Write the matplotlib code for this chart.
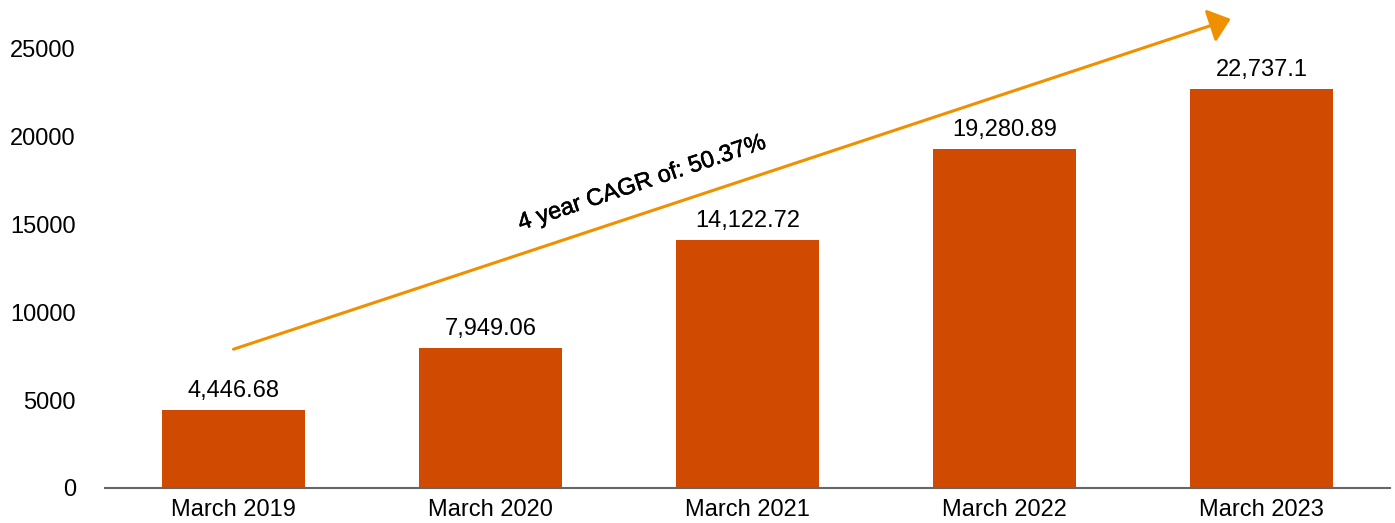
import matplotlib.pyplot as plt
import matplotlib.patheffects as pe

categories = ["March 2019", "March 2020", "March 2021", "March 2022", "March 2023"]
values = [4446.68, 7949.06, 14122.72, 19280.89, 22737.1]
value_labels = ["4,446.68", "7,949.06", "14,122.72", "19,280.89", "22,737.1"]
cagr_text = "4 year CAGR of: 50.37%"

plt.rcParams["font.family"] = ["Liberation Sans", "DejaVu Sans"]

fig = plt.figure(figsize=(13.95, 5.23), dpi=100)
ax = fig.add_axes([105 / 1395, 35 / 523, 1285 / 1395, 488 / 523])

x = range(len(categories))
ax.bar(x, values, width=0.56, color="#d04a02", zorder=2)
for i, (v, lab) in enumerate(zip(values, value_labels)):
    ax.text(i, v + 450, lab, ha="center", va="bottom", fontsize=17)

ax.set_xlim(-0.5, 4.5)
ax.set_ylim(0, 27780)
ax.set_xticks(list(x))
ax.set_xticklabels(categories, fontsize=17)
ax.set_yticks([0, 5000, 10000, 15000, 20000, 25000])
ax.set_yticklabels(["0", "5000", "10000", "15000", "20000", "25000"], fontsize=17)
ax.tick_params(length=0, pad=8)
ax.tick_params(axis="y", pad=21)

for s in ["top", "right", "left"]:
    ax.spines[s].set_visible(False)
ax.spines["bottom"].set_color("#666666")
ax.spines["bottom"].set_linewidth(1.5)
ax.spines["bottom"].set_zorder(3)

ax.annotate("", xy=(3.88, 26700), xytext=(0, 7900),
            arrowprops=dict(arrowstyle="-|>,head_length=1.3,head_width=1.05",
                            color="#ef9000", lw=2.2, shrinkA=0, shrinkB=0),
            annotation_clip=False, zorder=4)
ax.text(1.59, 17350, cagr_text, rotation=18.5, ha="center", va="center",
        fontsize=17, rotation_mode="anchor",
        path_effects=[pe.withStroke(linewidth=0.4, foreground="black")])

fig.savefig("out.png", dpi=100)
